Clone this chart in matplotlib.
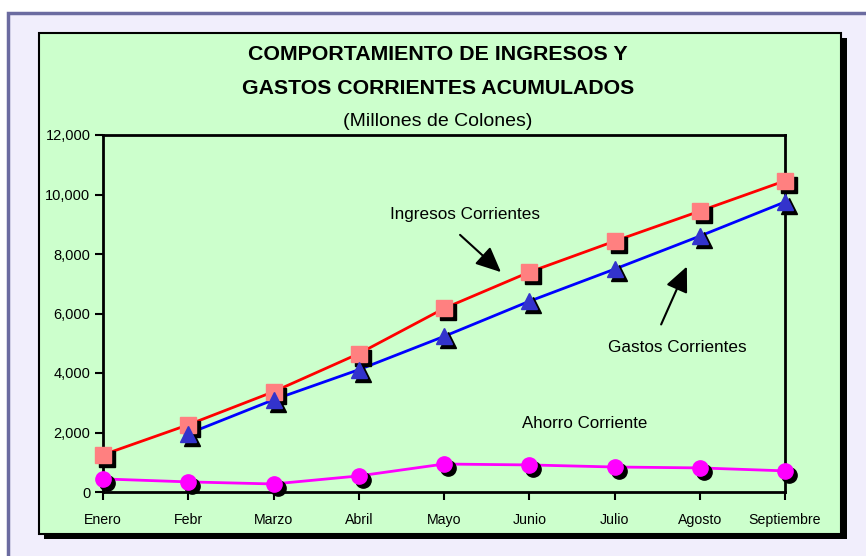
import matplotlib
matplotlib.use("Agg")
import matplotlib.pyplot as plt
import matplotlib.transforms as mtransforms
from matplotlib.patches import Rectangle, FancyArrowPatch
from matplotlib.ticker import FuncFormatter
import numpy as np

# data (millones de colones)
meses = ["Enero", "Febr", "Marzo", "Abril", "Mayo", "Junio", "Julio", "Agosto", "Septiembre"]
ingresos = [1250, 2260, 3370, 4650, 6170, 7390, 8430, 9440, 10460]
gastos = [np.nan, 1960, 3100, 4110, 5230, 6410, 7490, 8600, 9750]
ahorro = [440, 340, 270, 540, 940, 910, 840, 810, 710]

W, H = 866, 556
plt.rcParams['font.family'] = ['Liberation Sans', 'DejaVu Sans']

fig = plt.figure(figsize=(W / 100, H / 100), dpi=100)
fig.patch.set_facecolor('white')


def fx(x):
    return x / W


def fy(y):
    return 1 - y / H


# outer lavender frame
fig.patches.append(Rectangle((fx(8), fy(900)), 2.0, fy(13) - fy(900), transform=fig.transFigure,
                             facecolor='#F1EEFC', edgecolor='#6B6BA0', linewidth=2.5, zorder=0))
# green panel with shadow
fig.patches.append(Rectangle((fx(44), fy(539)), fx(803), fy(0) - fy(501), transform=fig.transFigure,
                             facecolor='black', edgecolor='none', zorder=1))
fig.patches.append(Rectangle((fx(39), fy(534)), fx(802), fy(0) - fy(501), transform=fig.transFigure,
                             facecolor='#CCFFCC', edgecolor='black', linewidth=1.5, zorder=2))

ax = fig.add_axes([fx(103), fy(492), fx(785 - 103), fy(135) - fy(492)])
ax.set_zorder(3)
ax.patch.set_visible(False)

x = np.arange(len(meses))
shadow = mtransforms.offset_copy(ax.transData, fig=fig, x=4, y=-4, units='dots')

series = [
    (ingresos, '#FF0000', 's', '#FF8080', 11),
    (gastos, '#0000FF', '^', '#3333CC', 12),
    (ahorro, '#FF00FF', 'o', '#FF00FF', 11),
]
for vals, lc, mk, mc, ms in series:
    ax.plot(x, vals, color=lc, lw=2, zorder=3, clip_on=False)
    ax.plot(x, vals, ls='none', marker=mk, ms=ms, color='black', mec='black',
            transform=shadow, zorder=4, clip_on=False)
    ax.plot(x, vals, ls='none', marker=mk, ms=ms, color=mc, mec=mc, zorder=5, clip_on=False)

ax.set_xlim(0, len(meses) - 1)
ax.set_ylim(0, 12000)
ax.set_xticks(x)
ax.set_xticklabels(meses)
ax.set_yticks(np.arange(0, 12001, 2000))
ax.yaxis.set_major_formatter(FuncFormatter(lambda v, p: f"{int(v):,}"))
ax.tick_params(axis='both', direction='out', length=6, width=1.5, colors='black')
ax.tick_params(axis='x', labelsize=10.2, pad=9)
ax.tick_params(axis='y', labelsize=10.5, pad=3)
for s in ax.spines.values():
    s.set_linewidth(2)
    s.set_color('black')

# titles
fig.text(fx(438), fy(55), "COMPORTAMIENTO DE INGRESOS Y", ha='center', va='center',
         fontsize=15.4, fontweight='bold', zorder=5)
fig.text(fx(438), fy(89), "GASTOS CORRIENTES ACUMULADOS", ha='center', va='center',
         fontsize=15.3, fontweight='bold', zorder=5)
fig.text(fx(438), fy(121), "(Millones de Colones)", ha='center', va='center', fontsize=14, zorder=5)

# series labels with arrows
fig.text(fx(465), fy(215), "Ingresos Corrientes", ha='center', va='center', fontsize=12.3, zorder=5)
fig.text(fx(677), fy(348), "Gastos Corrientes", ha='center', va='center', fontsize=12.3, zorder=5)
fig.text(fx(585), fy(424), "Ahorro Corriente", ha='center', va='center', fontsize=12.2, zorder=5)

for (x0, y0), (x1, y1) in [((458, 233), (503, 274)), ((660, 327), (688, 264))]:
    fig.patches.append(FancyArrowPatch((fx(x0), fy(y0)), (fx(x1), fy(y1)), transform=fig.transFigure,
                                       arrowstyle='-|>,head_length=1.1,head_width=0.5',
                                       mutation_scale=14, color='black', lw=1.5, zorder=5))

fig.savefig('out.png', dpi=100, facecolor=fig.get_facecolor())
